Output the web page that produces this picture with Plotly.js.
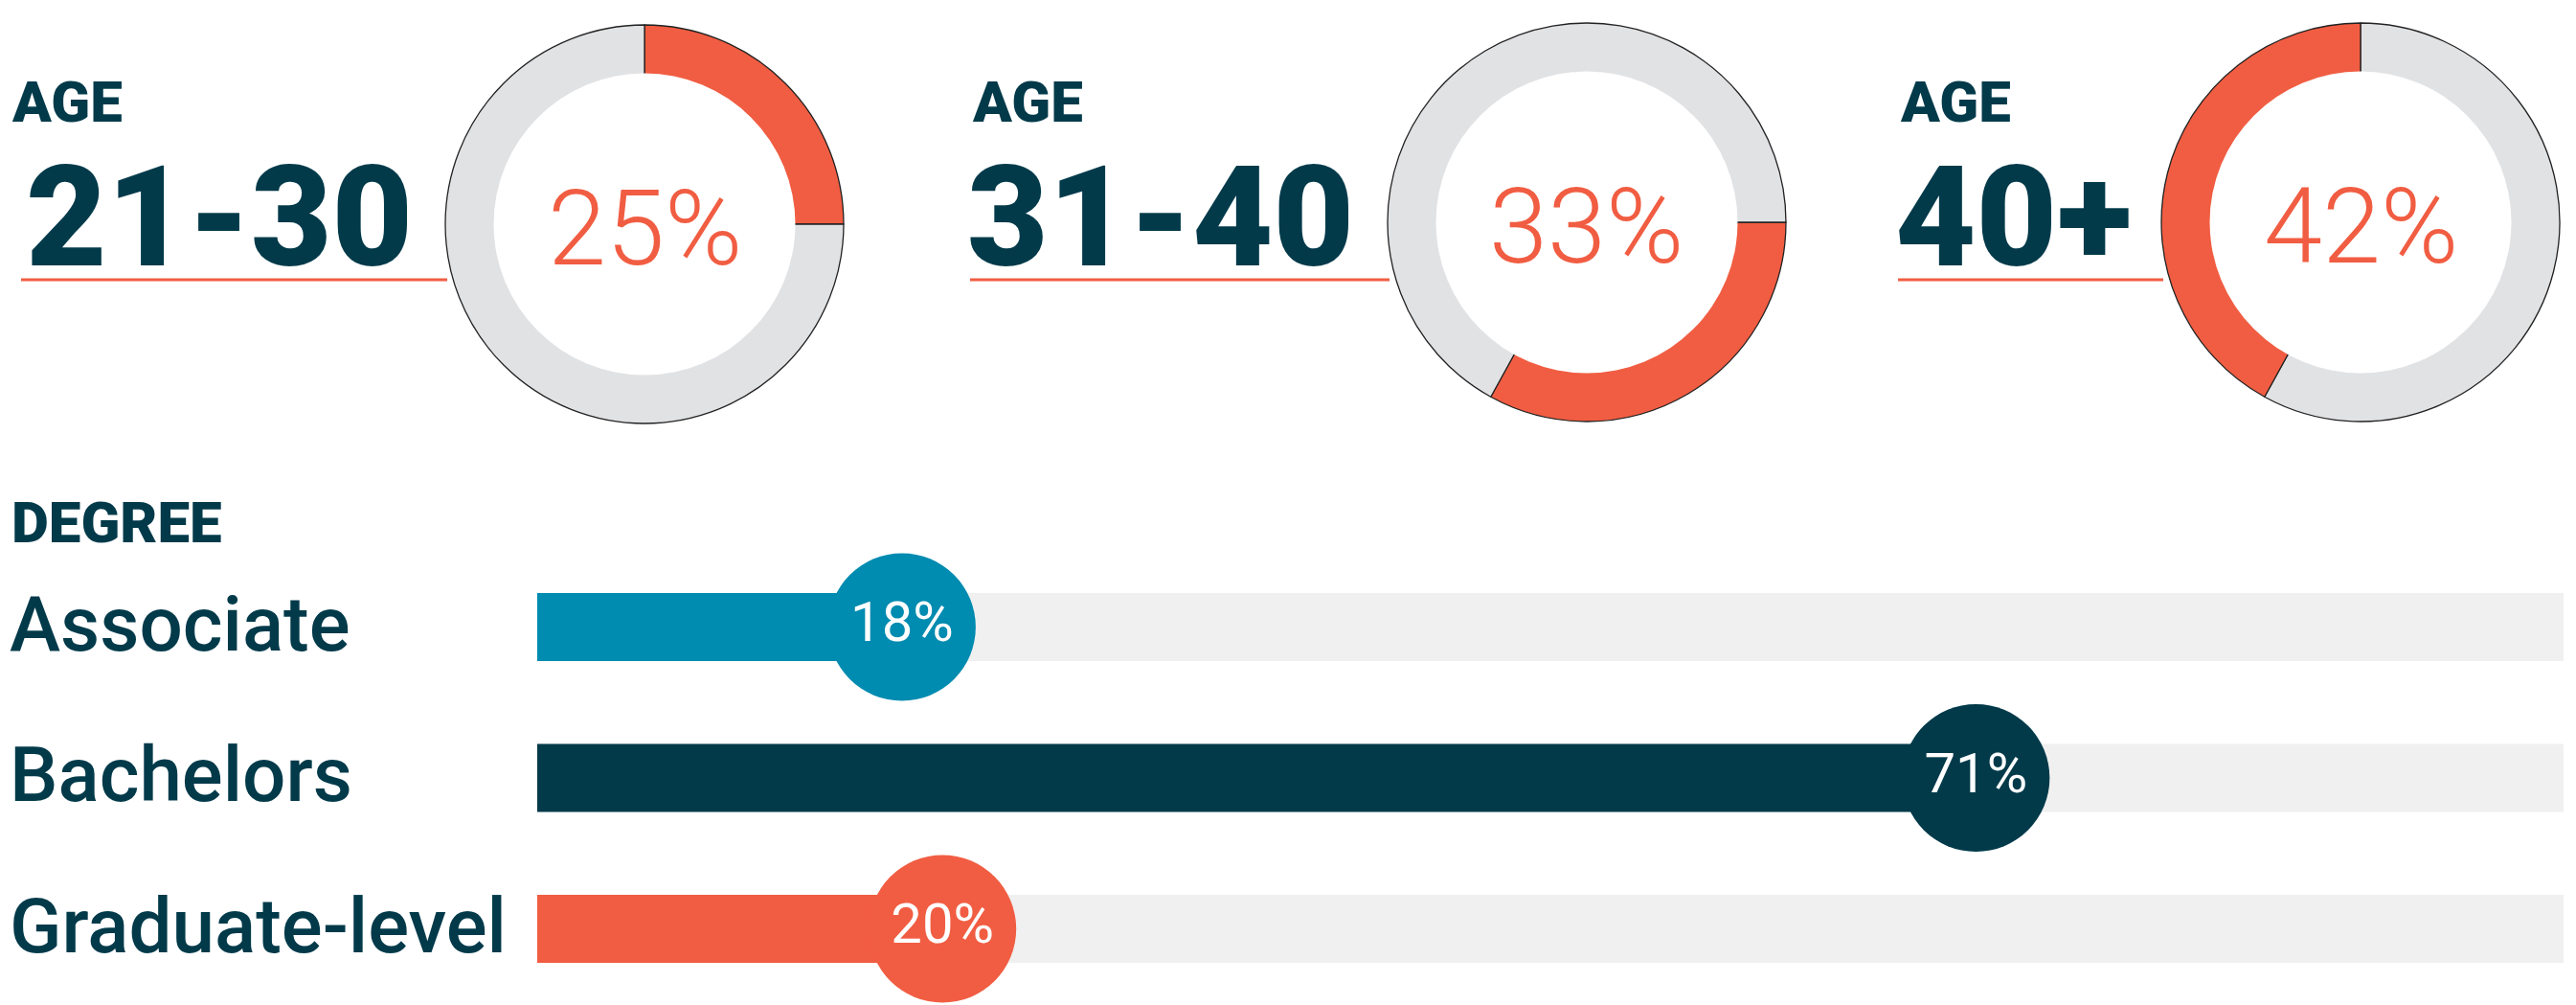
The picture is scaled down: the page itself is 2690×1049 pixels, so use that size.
<!DOCTYPE html>
<html>
<head>
<meta charset="utf-8">
<script src="https://cdn.plot.ly/plotly-3.0.1.min.js"></script>
<style>html,body{margin:0;padding:0;background:#fff;}#chart{width:2690px;height:1049px;}</style>
</head>
<body>
<div id="chart"></div>
<script>
// ---- data ----
const ageGroups = ['21-30', '31-40', '40+'];
const agePct = [25, 33, 42];
const degreeCats = ['Associate', 'Bachelors', 'Graduate-level'];
const degreePct = [18, 71, 20];

// ---- styling ----
const W = 2690, H = 1049;
const DARK = '#023A4A', ORANGE = '#F15D42', BLUE = '#008BB0', RING = '#E1E2E4', TRACK = '#F0F0F0';
const degreeColors = [BLUE, DARK, ORANGE];
const donutCenters = [[673, 234], [1657, 232], [2465, 232]];
const donutR = 208, hole = 0.75;
const donutRot = [0, 90, 0];
const orangeFirst = [true, true, false];   // third ring: orange runs back from 12 o'clock
const labelLeft = [10, 1013, 1982];
const bigLeft = [25, 1008, 1977];
const lineLeft = [22, 1013, 1982];
const ROBOTO = 'Roboto, "Liberation Sans", Arial, sans-serif';

const px = v => v / W;
const py = v => (H - v) / H;

const traces = [];
const shapes = [];
const annotations = [];

agePct.forEach((p, i) => {
  const [cx, cy] = donutCenters[i];
  const vals = orangeFirst[i] ? [p, 100 - p] : [100 - p, p];
  const cols = orangeFirst[i] ? [ORANGE, RING] : [RING, ORANGE];
  traces.push({
    type: 'pie',
    values: vals,
    marker: { colors: cols, line: { color: '#222', width: 1.3 } },
    hole: hole,
    sort: false,
    direction: 'clockwise',
    rotation: donutRot[i],
    textinfo: 'none',
    hoverinfo: 'skip',
    showlegend: false,
    domain: { x: [px(cx - donutR), px(cx + donutR)], y: [py(cy + donutR), py(cy - donutR)] }
  });
  // white disc hiding the inner outline
  const ir = donutR * hole + 1.5;
  shapes.push({ type: 'circle', xref: 'paper', yref: 'paper', layer: 'above',
    x0: px(cx - ir), x1: px(cx + ir), y0: py(cy + ir), y1: py(cy - ir),
    fillcolor: '#fff', line: { width: 0 } });
  // orange underline
  shapes.push({ type: 'line', xref: 'paper', yref: 'paper', layer: 'below',
    x0: px(lineLeft[i]), x1: px(cx - donutR + 2), y0: py(292), y1: py(292),
    line: { color: ORANGE, width: 3 } });
  annotations.push({ xref: 'paper', yref: 'paper', x: px(labelLeft[i]), y: py(106), xanchor: 'left', yanchor: 'middle',
    text: 'AGE', showarrow: false, font: { family: ROBOTO, size: 60, color: DARK, weight: 900 } });
  annotations.push({ xref: 'paper', yref: 'paper', x: px(bigLeft[i]), y: py(228), xanchor: 'left', yanchor: 'middle',
    text: ageGroups[i], showarrow: false, font: { family: ROBOTO, size: 146, color: DARK, weight: 900 } });
  annotations.push({ xref: 'paper', yref: 'paper', x: px(cx), y: py(cy + 4), xanchor: 'center', yanchor: 'middle',
    text: p + '%', showarrow: false, font: { family: ROBOTO, size: 110, color: ORANGE, weight: 300 } });
});

// ---- degree bars ----
traces.push({
  type: 'bar', orientation: 'h', y: degreeCats, x: degreeCats.map(() => 100),
  marker: { color: TRACK }, width: 0.45, hoverinfo: 'skip', showlegend: false, xaxis: 'x', yaxis: 'y'
});
traces.push({
  type: 'bar', orientation: 'h', y: degreeCats, x: degreePct,
  marker: { color: degreeColors }, width: 0.45, hoverinfo: 'skip', showlegend: false, xaxis: 'x', yaxis: 'y'
});
traces.push({
  type: 'scatter', mode: 'markers+text', y: degreeCats, x: degreePct,
  text: degreePct.map(v => v + '%'), textposition: 'middle center',
  textfont: { family: ROBOTO, size: 58, color: '#fff', weight: 400 },
  marker: { size: 154, color: degreeColors, line: { width: 0 } },
  cliponaxis: false, hoverinfo: 'skip', showlegend: false, xaxis: 'x', yaxis: 'y'
});

annotations.push({ xref: 'paper', yref: 'paper', x: px(10), y: py(545), xanchor: 'left', yanchor: 'middle',
  text: 'DEGREE', showarrow: false, font: { family: ROBOTO, size: 60, color: DARK, weight: 900 } });
degreeCats.forEach(c => {
  annotations.push({ xref: 'paper', yref: 'y', x: px(8), y: c, yshift: 3, xanchor: 'left', yanchor: 'middle',
    text: c, showarrow: false, font: { family: ROBOTO, size: 80, color: DARK, weight: 500 } });
});

const layout = {
  width: W, height: H,
  margin: { l: 0, r: 0, t: 0, b: 0, pad: 0 },
  paper_bgcolor: '#fff', plot_bgcolor: 'rgba(0,0,0,0)',
  barmode: 'overlay',
  showlegend: false,
  xaxis: { domain: [px(561), px(2677)], range: [0, 100], visible: false, fixedrange: true },
  yaxis: { domain: [py(1048.25), py(575.75)], type: 'category', categoryorder: 'array', categoryarray: degreeCats,
           range: [2.5, -0.5], visible: false, fixedrange: true },
  shapes: shapes,
  annotations: annotations
};

Plotly.newPlot('chart', traces, layout, { staticPlot: true, displayModeBar: false });
</script>
</body>
</html>
